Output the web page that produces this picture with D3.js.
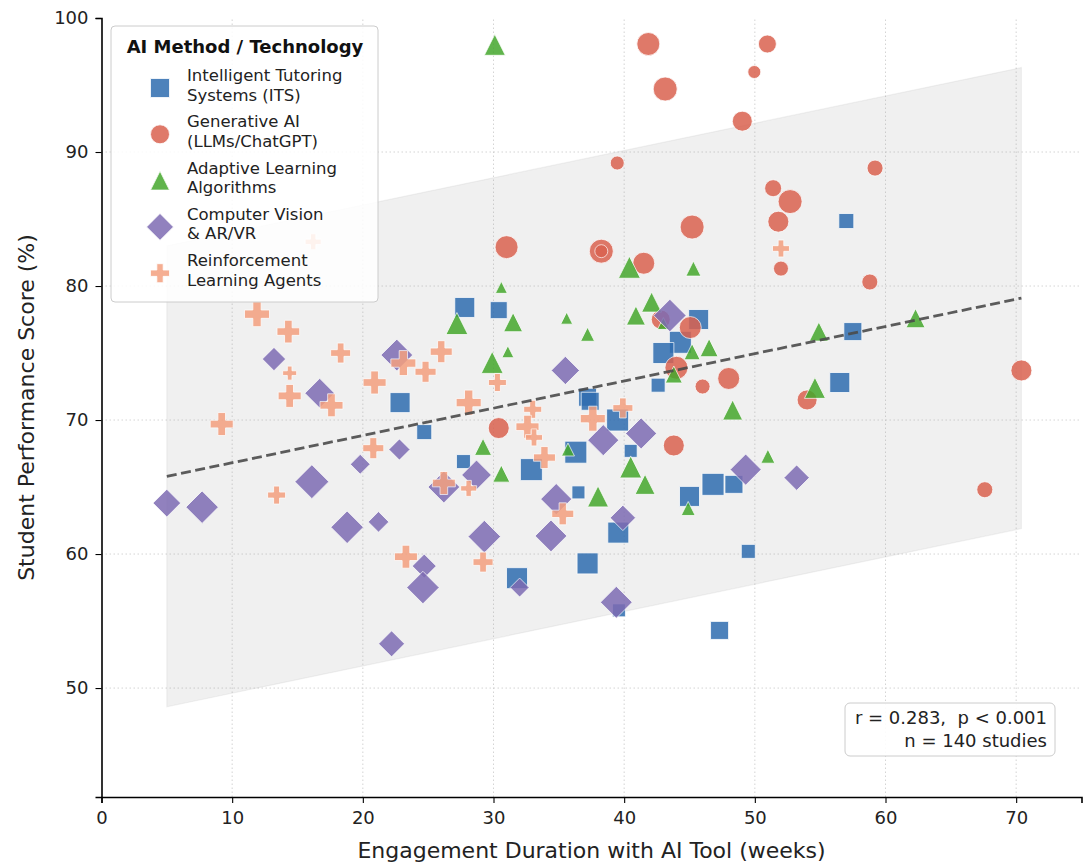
<!DOCTYPE html>
<html><head><meta charset="utf-8">
<script src="https://cdn.jsdelivr.net/npm/d3@7"></script>
<style>
body{margin:0;background:#fff}
svg{display:block}
text{font-family:"DejaVu Sans",sans-serif}
</style>
</head><body>
<svg id="chart" width="1084" height="868"></svg>
<script>
// ---------------- data ----------------
const categories = ["ITS", "GenAI", "Adaptive", "CV", "RL"];
const legendLabels = [
  ["Intelligent Tutoring", "Systems (ITS)"],
  ["Generative AI", "(LLMs/ChatGPT)"],
  ["Adaptive Learning", "Algorithms"],
  ["Computer Vision", "& AR/VR"],
  ["Reinforcement", "Learning Agents"]
];
const xTicks = [0, 10, 20, 30, 40, 50, 60, 70];
const yTicks = [50, 60, 70, 80, 90, 100];

// Intelligent Tutoring Systems: weeks, score, sample size
const itsWeeks = [57.0,27.8,30.4,22.85,24.7,27.7,32.9,37.2,37.4,36.3,36.5,37.2,31.8,45.7,44.3,43.0,42.6,57.5,56.5,39.5,40.5,46.8,48.4,45.0,39.55,49.5,39.6,47.3];
const itsScore = [84.85,78.4,78.2,71.3,69.1,66.9,66.3,71.7,71.4,67.6,64.6,59.3,58.2,77.5,75.8,75.0,72.6,76.6,72.8,70.0,67.7,65.2,65.2,64.3,61.6,60.2,55.8,54.3];
const itsN     = [180,320,231,320,180,157,387,259,259,387,135,353,353,320,387,353,157,259,320,387,135,387,259,320,353,157,135,259];

// Generative AI
const genWeeks = [41.85,50.96,49.96,43.14,49.04,39.47,59.2,51.4,52.7,51.8,45.2,31.0,38.25,38.25,41.5,52.0,58.8,42.8,45.06,44.0,48.0,46.0,54.0,43.8,30.4,70.4,67.6];
const genScore = [98.06,98.06,95.97,94.7,92.3,89.18,88.8,87.3,86.3,84.8,84.4,82.9,82.6,82.6,81.7,81.3,80.3,77.5,76.9,73.9,73.1,72.5,71.5,68.1,69.4,73.7,64.8];
const genN     = [423,259,135,461,320,157,205,231,461,353,461,423,461,135,387,180,205,289,387,423,387,180,320,353,353,353,205];

// Adaptive Learning Algorithms
const adaWeeks = [30.1,30.6,27.2,31.5,35.6,37.2,31.1,29.9,29.2,35.7,30.6,40.4,45.3,42.1,40.9,43.0,45.2,46.5,43.8,48.3,54.9,54.6,51.0,40.5,41.6,38.0,44.9,62.3];
const adaScore = [98.0,79.9,77.2,77.3,77.6,76.4,75.1,74.3,68.0,67.8,66.0,81.4,81.3,78.8,77.8,77.2,75.1,75.4,73.4,70.75,76.6,72.4,67.3,66.5,65.2,64.3,63.4,77.6];
const adaN     = [353,115,387,289,115,157,115,387,231,135,231,387,180,320,289,115,205,259,231,320,289,353,157,387,320,353,157,289];

// Computer Vision & AR/VR
const cvWeeks = [13.2,16.7,5.0,7.7,16.1,18.8,22.6,35.5,22.8,19.8,26.2,28.7,21.2,29.3,34.8,34.4,24.7,24.6,32.0,22.2,43.5,38.4,41.3,49.3,53.2,39.9,39.4];
const cvScore = [74.55,72.0,63.8,63.5,65.4,62.0,74.85,73.7,67.8,66.7,65.0,65.9,62.4,61.3,64.1,61.35,59.1,57.5,57.5,53.3,77.8,68.5,69.0,66.3,65.7,62.7,56.4];
const cvN     = [218,353,307,423,461,423,405,320,180,157,405,353,170,423,387,405,231,423,144,271,423,387,387,387,259,259,405];

// Reinforcement Learning Agents
const rlWeeks = [16.2,11.9,14.3,18.3,14.4,14.4,17.6,9.2,13.4,23.1,26.0,24.8,20.9,30.3,28.1,33.0,32.6,33.1,33.9,20.8,26.2,28.1,23.3,29.2,35.3,52.0,37.6,39.9];
const rlScore = [83.3,77.9,76.6,75.0,73.5,71.8,71.1,69.7,64.4,74.25,75.1,73.6,72.8,72.8,71.3,70.8,69.5,68.7,67.2,67.9,65.3,64.9,59.8,59.4,63.0,82.8,70.1,70.9];
const rlN     = [205,500,412,320,157,423,423,423,259,500,387,353,423,259,500,259,423,231,387,353,423,205,423,320,387,231,500,320];

// regression
const fitIntercept = 64.78;
const fitSlope = 0.2034;
const fitBand = 17.2;
const statsLines = ["r = 0.283,  p < 0.001", "n = 140 studies"];

// ---------------- drawing ----------------
const series = [
  {key:"ITS", shape:"square", color:"#2f6db0", wk:itsWeeks, sc:itsScore, n:itsN},
  {key:"GenAI", shape:"circle", color:"#da6250", wk:genWeeks, sc:genScore, n:genN},
  {key:"Adaptive", shape:"triangle", color:"#45a82d", wk:adaWeeks, sc:adaScore, n:adaN},
  {key:"CV", shape:"diamond", color:"#7e6cb3", wk:cvWeeks, sc:cvScore, n:cvN},
  {key:"RL", shape:"plus", color:"#f4a07f", wk:rlWeeks, sc:rlScore, n:rlN}
];

const svg = d3.select("#chart");
const x = d3.scaleLinear().domain([0, 75]).range([101.5, 1081.5]);
const y = d3.scaleLinear().domain([41.87, 100]).range([797, 18]);
const msize = d3.scaleSqrt().domain([0, 500]).range([0, 25]);

function shapePath(shape, m) {
  const h = m / 2;
  if (shape === "square") return `M${-h},${-h}H${h}V${h}H${-h}Z`;
  if (shape === "circle") return `M${h},0A${h},${h} 0 1,1 ${-h},0A${h},${h} 0 1,1 ${h},0Z`;
  if (shape === "triangle") return `M0,${-h}L${h},${h}L${-h},${h}Z`;
  if (shape === "diamond") { const d = m / Math.SQRT2; return `M0,${-d}L${d},0L0,${d}L${-d},0Z`; }
  const t = m / 6;
  return `M${-t},${-h}H${t}V${-t}H${h}V${t}H${t}V${h}H${-t}V${t}H${-h}V${-t}H${-t}Z`;
}

// grid
const grid = svg.append("g");
grid.selectAll(".gx").data(xTicks.filter(v => v > 0)).join("line")
  .attr("x1", d => x(d)).attr("x2", d => x(d)).attr("y1", y.range()[0]).attr("y2", y.range()[1])
  .attr("stroke", "#cfcfcf").attr("stroke-width", 0.9).attr("stroke-dasharray", "1.5,2.5");
grid.selectAll(".gy").data(yTicks.filter(v => v < 100)).join("line")
  .attr("y1", d => y(d)).attr("y2", d => y(d)).attr("x1", x.range()[0]).attr("x2", x.range()[1])
  .attr("stroke", "#cfcfcf").attr("stroke-width", 0.9).attr("stroke-dasharray", "1.5,2.5");

// band
const allX = series.flatMap(s => s.wk);
const [xmin, xmax] = d3.extent(allX);
const fit = v => fitIntercept + fitSlope * v;
const bandPts = [[xmin, fit(xmin) + fitBand], [xmax, fit(xmax) + fitBand], [xmax, fit(xmax) - fitBand], [xmin, fit(xmin) - fitBand]];
svg.append("path")
  .attr("d", d3.line().x(d => x(d[0])).y(d => y(d[1]))(bandPts) + "Z")
  .attr("fill", "#9a9a9a").attr("fill-opacity", 0.15)
  .attr("stroke", "#9a9a9a").attr("stroke-opacity", 0.12).attr("stroke-width", 1.2);

// points
series.forEach(s => {
  const pts = s.wk.map((w, i) => ({w, sc: s.sc[i], n: s.n[i]}));
  svg.append("g").selectAll("path").data(pts).join("path")
    .attr("transform", d => `translate(${x(d.w)},${y(d.sc)})`)
    .attr("d", d => shapePath(s.shape, msize(d.n)))
    .attr("fill", s.color).attr("stroke", "#ffffff").attr("stroke-width", 0.8)
    .attr("opacity", 0.85);
});

// regression line
svg.append("line")
  .attr("x1", x(xmin)).attr("y1", y(fit(xmin))).attr("x2", x(xmax)).attr("y2", y(fit(xmax)))
  .attr("stroke", "#4a4a4a").attr("stroke-opacity", 0.9).attr("stroke-width", 2.8)
  .attr("stroke-dasharray", "10,4.5");

// axes
const xMinor = d3.range(0, 75.01, 2.5);
const yMinor = d3.range(42.5, 100.01, 2.5);
const gx = svg.append("g").attr("transform", `translate(0,${y.range()[0]})`);
gx.call(d3.axisBottom(x).tickValues(xMinor).tickSize(3.5).tickFormat(""));
gx.call(d3.axisBottom(x).tickValues(xTicks).tickSize(6).tickPadding(8).tickFormat(d3.format("d")));
gx.selectAll(".domain").attr("stroke", "#000").attr("stroke-width", 1.6);
gx.selectAll(".tick line").attr("stroke", "#000").attr("stroke-width", 1.1);
gx.selectAll("text").attr("font-size", 18).attr("fill", "#222").attr("font-family", "DejaVu Sans");

const gy = svg.append("g").attr("transform", `translate(${x.range()[0]},0)`);
gy.call(d3.axisLeft(y).tickValues(yMinor).tickSize(3.5).tickFormat(""));
gy.call(d3.axisLeft(y).tickValues(yTicks).tickSize(6).tickPadding(7).tickFormat(d3.format("d")));
gy.selectAll(".domain").attr("stroke", "#000").attr("stroke-width", 1.6);
gy.selectAll(".tick line").attr("stroke", "#000").attr("stroke-width", 1.1);
gy.selectAll("text").attr("font-size", 18).attr("fill", "#222").attr("font-family", "DejaVu Sans");

// axis titles
svg.append("text").attr("x", (x.range()[0] + x.range()[1]) / 2).attr("y", 858)
  .attr("text-anchor", "middle").attr("font-size", 22).attr("fill", "#222")
  .text("Engagement Duration with AI Tool (weeks)");
svg.append("text").attr("transform", `translate(34,${(y.range()[0] + y.range()[1]) / 2}) rotate(-90)`)
  .attr("text-anchor", "middle").attr("font-size", 22).attr("fill", "#222")
  .text("Student Performance Score (%)");

// legend
const lg = svg.append("g");
lg.append("rect").attr("x", 111).attr("y", 26).attr("width", 267).attr("height", 276).attr("rx", 4)
  .attr("fill", "#fff").attr("fill-opacity", 0.85).attr("stroke", "#cccccc").attr("stroke-width", 1);
lg.append("text").attr("x", 245).attr("y", 53).attr("text-anchor", "middle")
  .attr("font-size", 18).attr("font-weight", "bold").attr("fill", "#111").text("AI Method / Technology");
series.forEach((s, i) => {
  const cy = 88 + i * 46.3;
  lg.append("path").attr("transform", `translate(160,${cy})`).attr("d", shapePath(s.shape, 19))
    .attr("fill", s.color).attr("stroke", "#fff").attr("stroke-width", 0.8).attr("opacity", 0.85);
  const t = lg.append("text").attr("x", 187).attr("y", cy - 7).attr("font-size", 16.5).attr("fill", "#222");
  legendLabels[i].forEach((line, j) => {
    t.append("tspan").attr("x", 187).attr("dy", j === 0 ? 0 : 19.5).text(line);
  });
});

// stats box
const sb = svg.append("g");
sb.append("rect").attr("x", 845).attr("y", 703).attr("width", 210).attr("height", 53).attr("rx", 5)
  .attr("fill", "#fff").attr("fill-opacity", 0.9).attr("stroke", "#cccccc").attr("stroke-width", 1);
statsLines.forEach((l, i) => {
  sb.append("text").attr("x", 1047).attr("y", 724 + i * 23).attr("text-anchor", "end")
    .attr("font-size", 18).attr("fill", "#222").style("white-space", "pre").text(l);
});
</script>
</body></html>
